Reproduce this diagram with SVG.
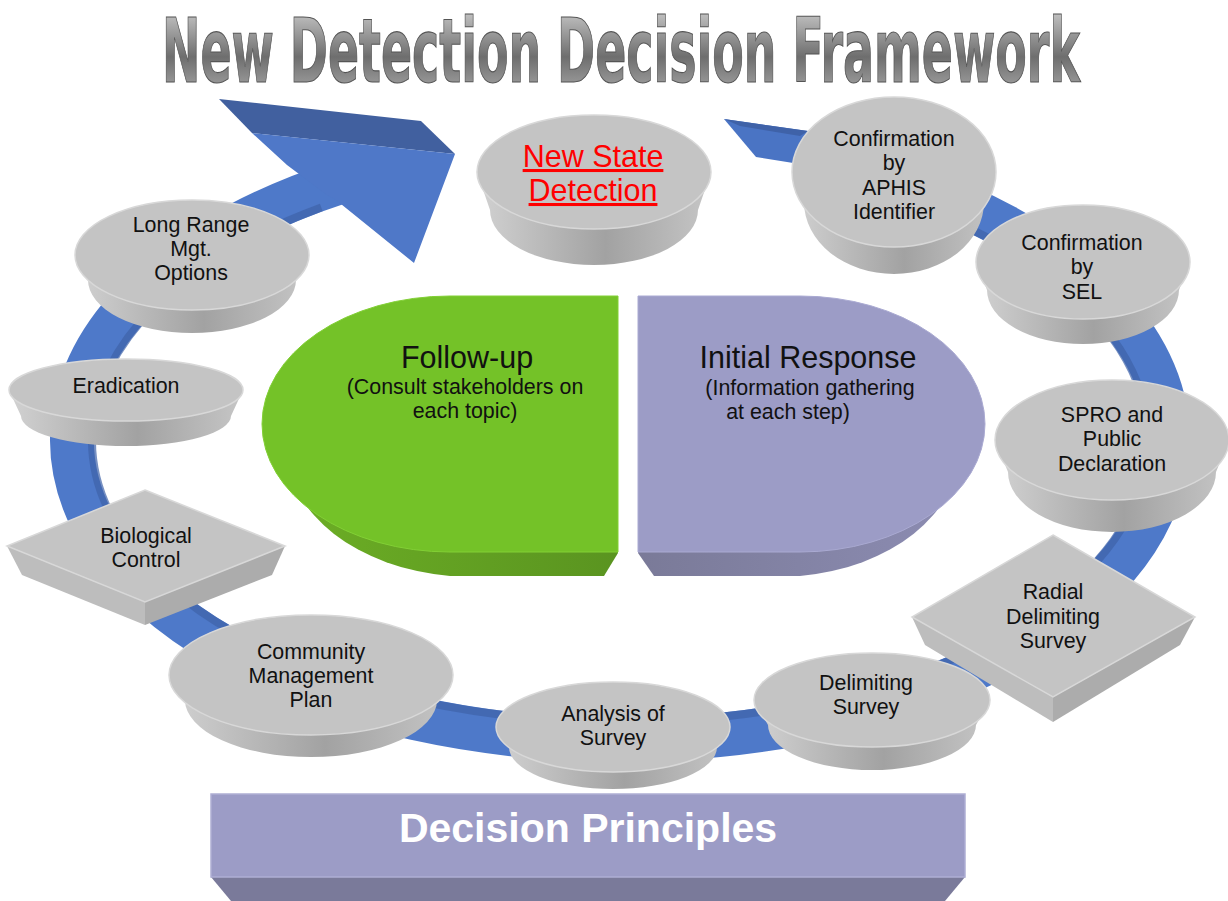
<svg xmlns="http://www.w3.org/2000/svg" width="1228" height="901" viewBox="0 0 1228 901">
<style>
.top{fill:#c4c4c4;stroke:#d8d8d8;stroke-width:1.5}
.side{fill:url(#sideG)}
.dl{fill:#bdbdbd}
.dr{fill:#acacac}
.t{font-family:"Liberation Sans",Arial,sans-serif;font-size:21.4px;fill:#111;text-anchor:middle}
.big{font-family:"Liberation Sans",Arial,sans-serif;font-size:30.5px;fill:#111;text-anchor:middle}
.sub{font-family:"Liberation Sans",Arial,sans-serif;font-size:21.4px;fill:#111;text-anchor:middle}
</style>
<defs>
<linearGradient id="sideG" x1="0" y1="0" x2="1" y2="0">
<stop offset="0" stop-color="#d2d2d2"/><stop offset="0.55" stop-color="#a2a2a2"/><stop offset="1" stop-color="#c6c6c6"/>
</linearGradient>
<linearGradient id="titleG" x1="0" y1="0" x2="0" y2="1">
<stop offset="0" stop-color="#d8d8d8"/><stop offset="0.55" stop-color="#6e6e6e"/><stop offset="1" stop-color="#b4b4b4"/>
</linearGradient>
<linearGradient id="greenSide" x1="0" y1="0" x2="1" y2="0">
<stop offset="0" stop-color="#6cae25"/><stop offset="1" stop-color="#5a9420"/>
</linearGradient>
<linearGradient id="purpSide" x1="0" y1="0" x2="1" y2="0">
<stop offset="0" stop-color="#7a7a98"/><stop offset="1" stop-color="#8c8cb2"/>
</linearGradient>
</defs>

<g id="title">
<text transform="translate(162,82) scale(1,1.8)" x="0" y="0" font-family="'DejaVu Sans Condensed','DejaVu Sans',sans-serif" font-weight="bold" font-size="49" textLength="918" lengthAdjust="spacingAndGlyphs" fill="url(#titleG)" stroke="#555" stroke-width="0.6">New Detection Decision Framework</text>
</g>

<g id="connectors">
<path d="M 810,158.6 A 548 300 0 1 1 340,182.1" fill="none" stroke="#4e79c9" stroke-width="44"/>
<path d="M 803.1,175.5 A 528 282 0 1 1 321.3,207.5" fill="none" stroke="#3f62a8" stroke-width="8" opacity="0.7"/>
<polygon points="724,119 808,131 812,166 756,157" fill="#4a74c4"/>
<polygon points="724,119 808,131 800,136 740,126" fill="#3f62a8"/>
<polygon points="219,99 421,121 455,154 252,133" fill="#41609f"/>
<polygon points="252,133 455,154 414,263 336,200 327,195 287,165" fill="#4f78c8"/>
</g>

<g id="follow-up">
<path d="M 604,322 L 450,322 A 186 128 0 0 0 450,576 L 604,576 L 618,553 Z" fill="url(#greenSide)"/>
<path d="M 618,296 L 450,296 A 188 128 0 0 0 450,552 L 618,552 Z" fill="#74c228" stroke="#82d035" stroke-width="1"/>
<text class="big" x="467" y="368">Follow-up</text>
<text class="sub" x="465" y="394">(Consult stakeholders on</text>
<text class="sub" x="465" y="418">each topic)</text>
</g>

<g id="initial-response">
<path d="M 652,322 L 800,322 A 182 128 0 0 1 800,576 L 654,576 L 638,553 Z" fill="url(#purpSide)"/>
<path d="M 638,296 L 800,296 A 185 128 0 0 1 800,552 L 638,552 Z" fill="#9c9cc6" stroke="#aaaad2" stroke-width="1"/>
<text class="big" x="808" y="368">Initial Response</text>
<text class="sub" x="810" y="395">(Information gathering</text>
<text class="sub" x="788" y="419">at each step)</text>
</g>

<g id="new-state-detection">
<path class="side" d="M 477,172 L 490,210 A 104 55 0 0 0 698,210 L 711,172 Z"/>
<ellipse class="top" cx="594" cy="172" rx="117" ry="57"/>
<text x="593" y="167" font-family="'Liberation Sans',Arial,sans-serif" font-size="30.5" fill="#ff0000" text-anchor="middle" text-decoration="underline">New State</text>
<text x="593" y="201" font-family="'Liberation Sans',Arial,sans-serif" font-size="30.5" fill="#ff0000" text-anchor="middle" text-decoration="underline">Detection</text>
</g>

<g id="confirmation-aphis">
<path class="side" d="M 792,172 L 804,202 A 90 72 0 0 0 984,202 L 996,172 Z"/>
<ellipse class="top" cx="894" cy="172" rx="102" ry="75"/>
<text class="t" x="894" y="146">Confirmation</text>
<text class="t" x="894" y="170">by</text>
<text class="t" x="894" y="195">APHIS</text>
<text class="t" x="894" y="219">Identifier</text>
</g>

<g id="confirmation-sel">
<path class="side" d="M 976,262 L 987,290 A 96 54 0 0 0 1179,290 L 1190,262 Z"/>
<ellipse class="top" cx="1083" cy="262" rx="107" ry="57"/>
<text class="t" x="1082" y="250">Confirmation</text>
<text class="t" x="1082" y="274">by</text>
<text class="t" x="1082" y="299">SEL</text>
</g>

<g id="spro">
<path class="side" d="M 995,440 L 1008,472 A 104 60 0 0 0 1216,472 L 1229,440 Z"/>
<ellipse class="top" cx="1112" cy="440" rx="117" ry="60"/>
<text class="t" x="1112" y="422">SPRO and</text>
<text class="t" x="1112" y="446">Public</text>
<text class="t" x="1112" y="471">Declaration</text>
</g>

<g id="radial-delimiting-survey">
<polygon class="dl" points="912,617 1053,697 1053,722 925,645"/>
<polygon class="dr" points="1053,697 1195,617 1180,645 1053,722"/>
<polygon class="top" points="1053,535 1195,617 1053,697 912,617"/>
<text class="t" x="1053" y="599">Radial</text>
<text class="t" x="1053" y="624">Delimiting</text>
<text class="t" x="1053" y="648">Survey</text>
</g>

<g id="delimiting-survey">
<path class="side" d="M 754,700 L 768,725 A 104 45 0 0 0 976,725 L 990,700 Z"/>
<ellipse class="top" cx="872" cy="700" rx="118" ry="47"/>
<text class="t" x="866" y="690">Delimiting</text>
<text class="t" x="866" y="714">Survey</text>
</g>

<g id="analysis-of-survey">
<path class="side" d="M 496,727 L 509,747 A 104 42 0 0 0 717,747 L 730,727 Z"/>
<ellipse class="top" cx="613" cy="727" rx="117" ry="45"/>
<text class="t" x="613" y="721">Analysis of</text>
<text class="t" x="613" y="745">Survey</text>
</g>

<g id="community-management-plan">
<path class="side" d="M 169,675 L 185,700 A 126 57 0 0 0 437,700 L 453,675 Z"/>
<ellipse class="top" cx="311" cy="675" rx="142" ry="60"/>
<text class="t" x="311" y="659">Community</text>
<text class="t" x="311" y="683">Management</text>
<text class="t" x="311" y="707">Plan</text>
</g>

<g id="biological-control">
<polygon class="dl" points="7,546 145,602 145,625 22,575"/>
<polygon class="dr" points="145,602 285,546 272,575 145,625"/>
<polygon class="top" points="145,490 285,546 145,602 7,546"/>
<text class="t" x="146" y="543">Biological</text>
<text class="t" x="146" y="567">Control</text>
</g>

<g id="eradication">
<path class="side" d="M 9,390 L 21,416 A 105 30 0 0 0 231,416 L 243,390 Z"/>
<ellipse class="top" cx="126" cy="390" rx="117" ry="31"/>
<text class="t" x="126" y="393">Eradication</text>
</g>

<g id="long-range">
<path class="side" d="M 75,255 L 88,280 A 104 53 0 0 0 296,280 L 309,255 Z"/>
<ellipse class="top" cx="192" cy="255" rx="117" ry="55"/>
<text class="t" x="191" y="232">Long Range</text>
<text class="t" x="191" y="256">Mgt.</text>
<text class="t" x="191" y="280">Options</text>
</g>

<g id="decision-principles">
<polygon points="211,877 965,877 945,901 231,901" fill="#7a7a9a"/>
<rect x="211" y="794" width="754" height="83" fill="#9c9cc6" stroke="#aeaed4" stroke-width="1.5"/>
<text x="588" y="842" font-family="'Liberation Sans',Arial,sans-serif" font-weight="bold" font-size="41" fill="#ffffff" text-anchor="middle">Decision Principles</text>
</g>
</svg>
